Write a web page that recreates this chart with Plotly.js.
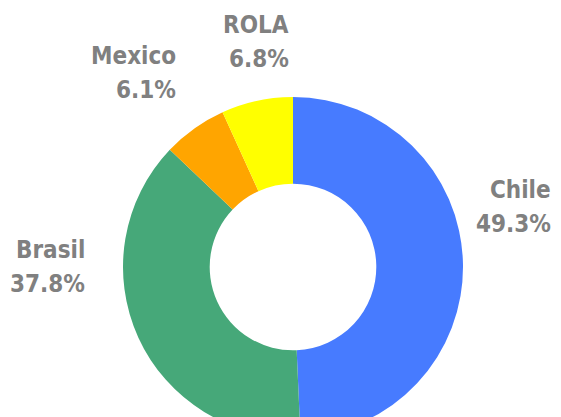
<!DOCTYPE html>
<html>
<head>
<meta charset="utf-8">
<script src="https://cdn.plot.ly/plotly-3.0.1.min.js"></script>
<style>
  html, body { margin: 0; padding: 0; overflow: hidden; background: #fff; }
  #chart { width: 561px; height: 460px; }
</style>
</head>
<body>
<div id="chart"></div>
<script>
// share by country (percent)
const countries = ['Chile', 'Brasil', 'Mexico', 'ROLA'];
const shares = [49.3, 37.8, 6.1, 6.8];
const sliceColors = ['#477bff', '#46a879', '#ffa500', '#ffff00'];

const main = () => {
  const W = 561, H = 460;
  const m = { l: 25, r: 0, t: 97, b: 23 };
  const plotW = W - m.l - m.r, plotH = H - m.t - m.b;

  // label anchor (right edge, middle between the two lines) in page pixels
  const labelPx = [[553, 207], [87, 267], [178, 73], [291, 42]];
  const lineGap = 34;
  const labelFont = { family: 'DejaVu Sans Condensed, DejaVu Sans', size: 24, color: '#808080', weight: 'bold' };

  let trace = {
    type: 'pie',
    labels: countries,
    values: shares,
    hole: 0.49,
    sort: false,
    direction: 'clockwise',
    rotation: 0,
    marker: { colors: sliceColors, line: { width: 0 } },
    textinfo: 'none',
    hoverinfo: 'none',
    showlegend: false
  };

  const toPaper = (px, py) => ({ x: (px - m.l) / plotW, y: 1 - (py - m.t) / plotH });

  let annotations = [];
  countries.forEach((c, i) => {
    let lines = [c, `${shares[i].toFixed(1)}%`];
    lines.forEach((txt, k) => {
      let p = toPaper(labelPx[i][0], labelPx[i][1] + (k - 0.5) * lineGap);
      annotations.push({
        xref: 'paper', yref: 'paper', x: p.x, y: p.y,
        xanchor: 'right', yanchor: 'middle', align: 'right',
        showarrow: false, text: txt, font: labelFont
      });
    });
  });

  let layout = {
    width: W,
    height: H,
    margin: m,
    paper_bgcolor: '#ffffff',
    showlegend: false,
    annotations: annotations
  };

  Plotly.newPlot('chart', [trace], layout, { displayModeBar: false, staticPlot: true });
};

document.addEventListener('DOMContentLoaded', main, false);
</script>
</body>
</html>
